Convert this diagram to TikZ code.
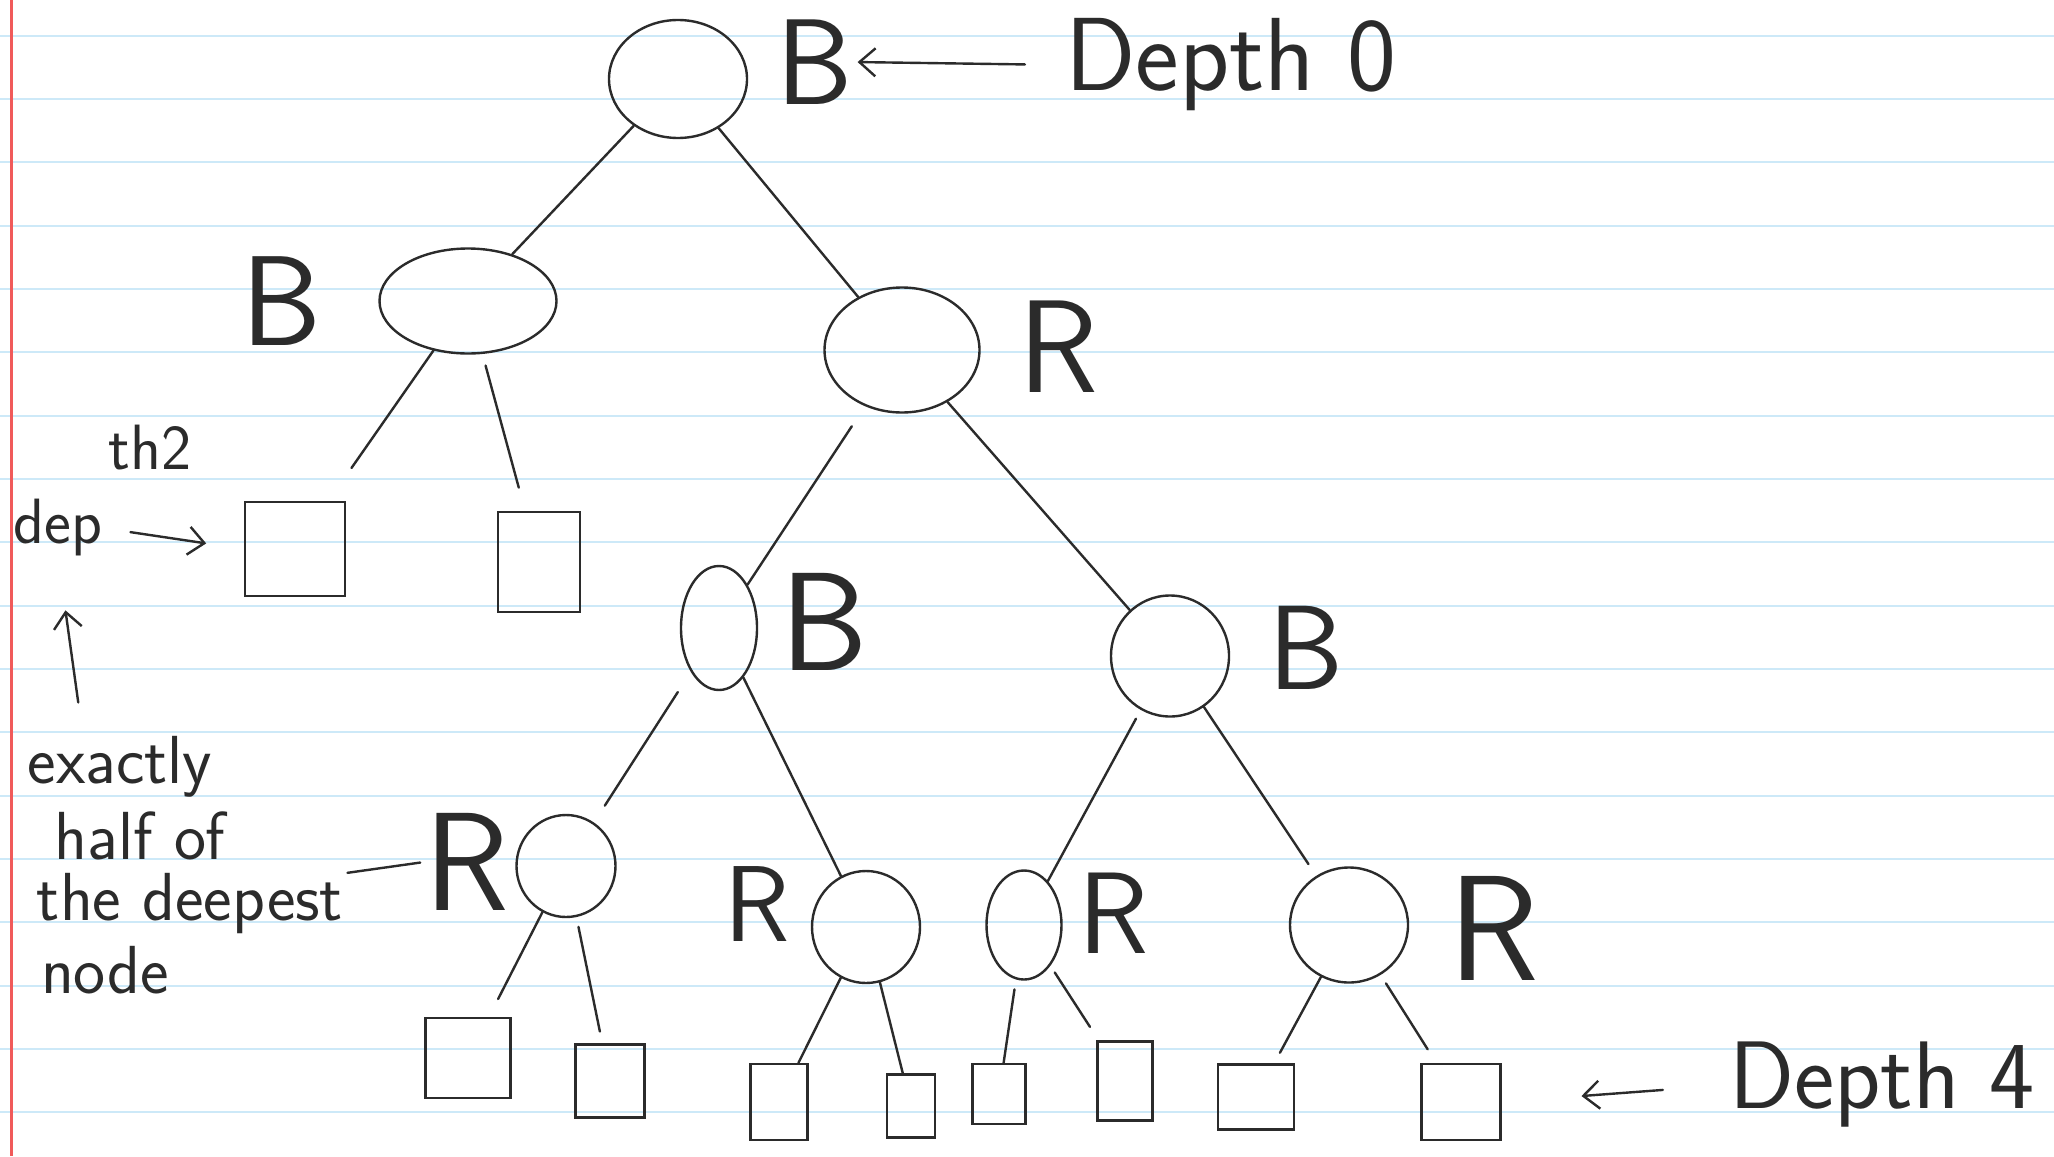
\documentclass[tikz,border=0pt]{standalone}
\usetikzlibrary{shapes.geometric,arrows.meta,calc}
\definecolor{inkc}{HTML}{2B2B2B}
\definecolor{rulec}{HTML}{CDE9F8}
\definecolor{marginc}{HTML}{F05A5A}
\newcommand\handsize[1]{\fontsize{#1}{#1}\selectfont}
\begin{document}
\begin{tikzpicture}[x=0.5pt,y=-0.5pt,
  ink/.style={draw=inkc,line width=1.2pt},
  vert/.style={ellipse,ink,inner sep=0pt},
  leaf/.style={rectangle,ink,inner sep=0pt},
  lbl/.style={text=inkc,inner sep=0pt,font=\sffamily},
  edge/.style={draw=inkc,line width=1.2pt,line cap=round},
  arr/.style={edge,-{Straight Barb[length=8pt,width=14pt]}}
]
% ruled notebook paper
\useasboundingbox (0,0) rectangle (2054,1156);
\fill[white] (0,0) rectangle (2054,1156);
\foreach \k in {0,...,17}
  \draw[rulec,line width=1pt] (0,{35.7+63.33*\k}) -- (2054,{35.7+63.33*\k});
\draw[marginc,line width=1.6pt] (11.7,0) -- (11.7,1156);

% internal nodes
\node[vert,minimum width=69pt,minimum height=59pt]   (root) at (678,79)  {};
\node[vert,minimum width=88.5pt,minimum height=52.5pt] (n1L) at (468,301) {};
\node[vert,minimum width=77.5pt,minimum height=62.5pt] (n1R) at (902,350) {};
\node[vert,minimum width=38pt,minimum height=62pt]   (n2L) at (719,628)  {};
\node[vert,minimum width=59pt,minimum height=60.5pt] (n2R) at (1170,656) {};
\node[vert,minimum width=49.5pt,minimum height=51pt] (n3a) at (566,866)  {};
\node[vert,minimum width=54pt,minimum height=56pt]   (n3b) at (866,927)  {};
\node[vert,minimum width=37.5pt,minimum height=54.5pt] (n3c) at (1024,925) {};
\node[vert,minimum width=59pt,minimum height=57.5pt] (n3d) at (1349,925) {};

% nil leaves
\node[leaf,minimum width=50pt,minimum height=47pt]   (lA) at (295,549)  {};
\node[leaf,minimum width=41pt,minimum height=50pt]   (lB) at (539,562)  {};
\node[leaf,minimum width=42.5pt,minimum height=40pt] (l1) at (468,1058) {};
\node[leaf,minimum width=34.5pt,minimum height=36.5pt] (l2) at (610,1081) {};
\node[leaf,minimum width=28.5pt,minimum height=38pt] (l3) at (779,1102) {};
\node[leaf,minimum width=24pt,minimum height=31.5pt] (l4) at (911,1106) {};
\node[leaf,minimum width=26.5pt,minimum height=30pt] (l5) at (999,1094) {};
\node[leaf,minimum width=27.5pt,minimum height=39.5pt] (l6) at (1125,1081) {};
\node[leaf,minimum width=38pt,minimum height=32.5pt] (l7) at (1256,1097) {};
\node[leaf,minimum width=39.5pt,minimum height=38pt] (l8) at (1461,1102) {};

% colour labels
\node[lbl,font=\sffamily\handsize{61}] (Broot) at (815,62)  {B};
\node[lbl,font=\sffamily\handsize{64}] (B1)    at (282,301) {B};
\node[lbl,font=\sffamily\handsize{66}] (R1)    at (1058,347) {R};
\node[lbl,font=\sffamily\handsize{70}] (B2L)   at (824,622) {B};
\node[lbl,font=\sffamily\handsize{60}] (B2R)   at (1306,648) {B};
\node[lbl,font=\sffamily\handsize{70}] (R3a)   at (467,862) {R};
\node[lbl,font=\sffamily\handsize{54}] (R3b)   at (757,904) {R};
\node[lbl,font=\sffamily\handsize{58}] (R3c)   at (1114,913) {R};
\node[lbl,font=\sffamily\handsize{75}] (R3d)   at (1494,928) {R};

% depth notes
\node[lbl,font=\sffamily\handsize{52}] (depth0) at (1231,65)  {Depth 0};
\node[lbl,font=\sffamily\handsize{48}] (depth4) at (1882,1085) {Depth 4};
\node[lbl,font=\sffamily\handsize{32}] (dep) at (58,528) {dep};
\node[lbl,font=\sffamily\handsize{32}] (th2) at (150,448) {th2};
\node[lbl,font=\sffamily\handsize{34}] (exactly) at (120,767) {exactly};
\node[lbl,font=\sffamily\handsize{34}] (halfof)  at (140,836) {half of};
\node[lbl,font=\sffamily\handsize{34}] (deepest) at (190,904) {the deepest};
\node[lbl,font=\sffamily\handsize{34}] (nodew)   at (105,970) {node};

% tree edges
\draw[edge] (root) -- (n1L);
\draw[edge] (root) -- (n1R);
\draw[edge,shorten >=20pt] (n1L) -- (lA);
\draw[edge,shorten <=6pt,shorten >=12pt] (n1L) -- (lB);
\draw[edge,shorten <=12pt] (n1R) -- (n2L);
\draw[edge] (n1R) -- (n2R);
\draw[edge,shorten <=12pt,shorten >=10pt] (n2L) -- (n3a);
\draw[edge] (n2L) -- (n3b);
\draw[edge,shorten <=5pt] (n2R) -- (n3c);
\draw[edge,shorten >=7pt] (n2R) -- (n3d);
\draw[edge,shorten >=10pt] (n3a) -- (l1);
\draw[edge,shorten <=5pt,shorten >=6pt] (n3a) -- (l2);
\draw[edge] (n3b) -- (l3);
\draw[edge] (n3b) -- (l4);
\draw[edge,shorten <=5pt] (n3c) -- (l5);
\draw[edge,shorten <=4pt,shorten >=8pt] (n3c) -- (l6);
\draw[edge,shorten >=6pt] (n3d) -- (l7);
\draw[edge,shorten <=5pt,shorten >=8pt] (n3d) -- (l8);

% annotation arrows
\draw[arr,shorten <=20pt,shorten >=2pt] (depth0.west) -- (Broot.east);
\draw[arr,shorten <=33pt,shorten >=40pt] (depth4.west) -- (l8.east);
\draw[arr,shorten <=14pt,shorten >=19pt] (dep.east) -- (lA.west);
\draw[arr,shorten <=17pt,shorten >=27pt] ($(exactly.north west)!0.3!(exactly.north east)$) -- (dep.south);
\draw[edge,shorten <=2pt,shorten >=2pt] (deepest.north east) -- (R3a.west);
\end{tikzpicture}
\end{document}
